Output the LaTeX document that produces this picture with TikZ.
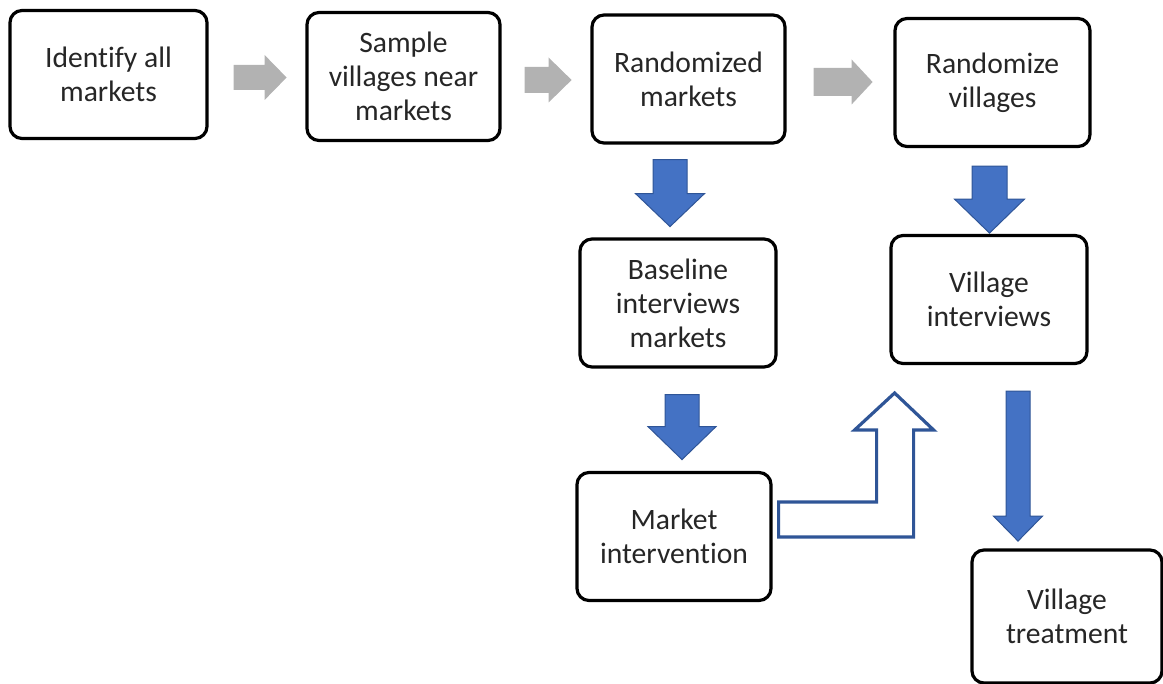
\documentclass[tikz,border=0pt]{standalone}
\usepackage{fontspec}
\setmainfont[Ligatures=NoCommon]{Carlito}
\usetikzlibrary{calc}
\definecolor{arrblue}{RGB}{68,114,196}
\definecolor{arredge}{RGB}{47,85,151}
\definecolor{arrgrey}{RGB}{178,178,178}
\newcommand{\px}{0.5pt}
\newcommand{\boxfont}{\fontsize{14.8}{17}\selectfont}
% grey block arrow pointing right: start, length, half shaft, half head, head length
\newcommand{\greyarr}[5]{
\fill[arrgrey] ($#1+(0,-#3)$) -- ++(#2-#5,0) -- ++(0,#3-#4) -- ++(#5,#4)
  -- ++(-#5,#4) -- ++(0,#3-#4) -- ++(#5-#2,0) -- cycle;
}
% blue block arrow pointing down: top centre, length, half shaft, half head, head length
\newcommand{\bluearr}[5]{
\filldraw[fill=arrblue, draw=arredge, line width=0.5pt] ($#1+(-#3,0)$) -- ++(0,#2-#5)
  -- ++(#3-#4,0) -- ++(#4,#5) -- ++(#4,-#5) -- ++(#3-#4,0) -- ++(0,#5-#2) -- cycle;
}
\tikzset{
  box/.style={draw, line width=1.6pt, rounded corners=6pt, fill=white,
    minimum width=195*\px, minimum height=128*\px, inner sep=0pt,
    align=center, font=\boxfont, text=black!85}
}

\begin{document}
\begin{tikzpicture}[x=0.5pt, y=-0.5pt]
\useasboundingbox (0,0) rectangle (1163,684);

% top row
\node[box, minimum width=197*\px] (ident) at (108.5,74.5) {Identify all\\markets};
\node[box, minimum width=193*\px] (sample) at (403.5,76.5) {Sample\\villages near\\markets};
\node[box, minimum width=193*\px] (rmk) at (688.5,79) {Randomized\\markets};
\node[box] (rvil) at (992.5,82.5) {Randomize\\villages};

\greyarr{(ident.east)+(25,3)}{53}{12.5}{22.5}{22}
\greyarr{(sample.east)+(23,3.5)}{47}{13}{22.5}{23}
\greyarr{(rmk.east)+(27,3)}{59}{14}{22.5}{21}

% markets
\node[box, minimum width=196*\px] (base) at (678,303) {Baseline\\interviews\\markets};
\node[box, minimum width=194*\px] (mint) at (674,536.5) {Market\\intervention};

\bluearr{(rmk.south)+(-18.5,15)}{67}{17}{34.5}{33}
\bluearr{(base.south)+(4,26)}{65}{17}{34}{33}

% villages
\node[box, minimum width=196*\px] (vint) at (989,299.5) {Village\\interviews};
\node[box, minimum width=190*\px, minimum height=133*\px] (vtr) at (1067,616.5) {Village\\treatment};

\bluearr{(rvil.south)+(-3,18)}{67}{17.5}{35}{34}
\bluearr{(vint.south)+(29,26)}{150}{12}{24.5}{25}

% market intervention feeds village interviews
\draw[arredge, line width=1.6pt, fill=white, line join=miter]
  ($(mint.east)+(6,0.5)$) -- ++(0,-35) -- ++(98,0) -- ++(0,-72) -- ++(-22,0)
  -- ++(40,-37) -- ++(39,37) -- ++(-20,0) -- ++(0,107) -- cycle;
\end{tikzpicture}
\end{document}
